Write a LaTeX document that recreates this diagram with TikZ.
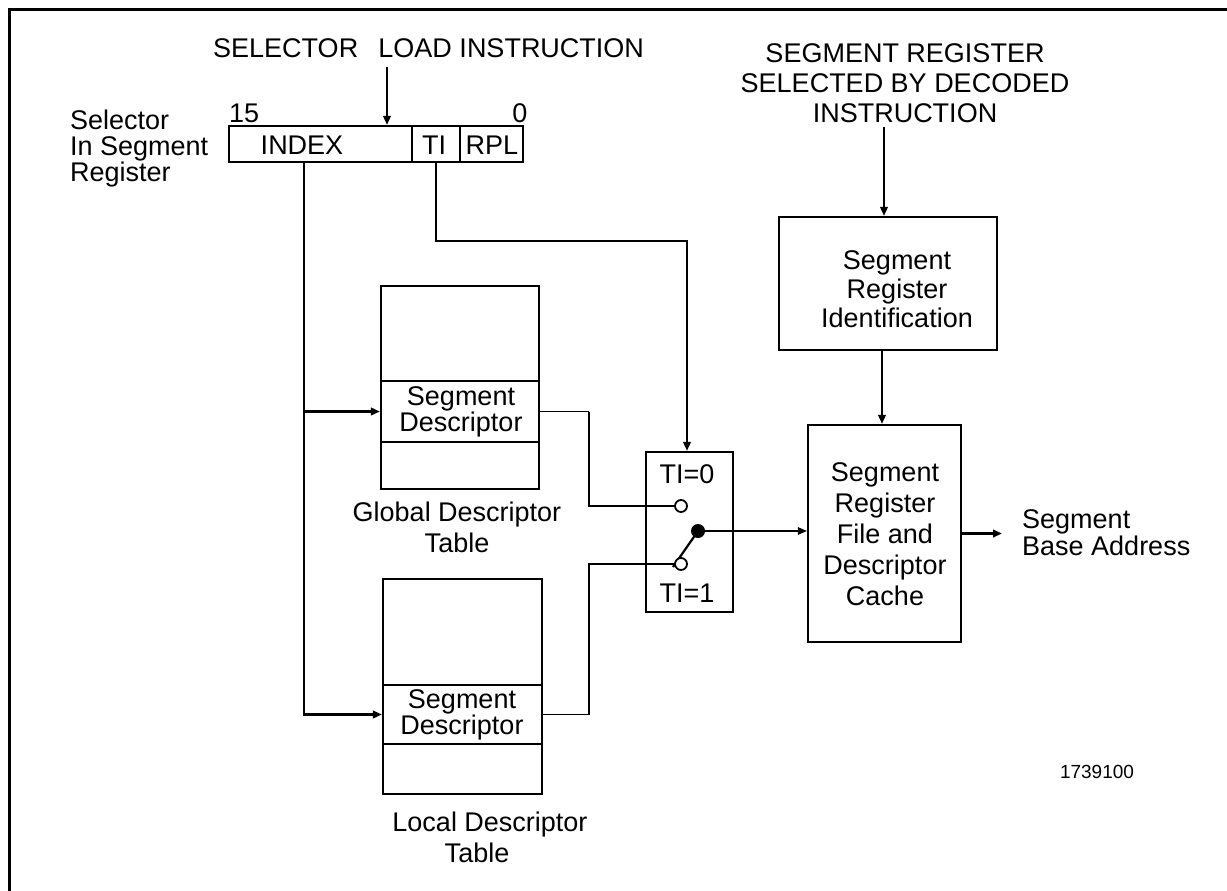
\documentclass[tikz,border=0pt]{standalone}
\usepackage{fontspec}
\setmainfont{Liberation Sans}
\usetikzlibrary{arrows.meta,calc}
\begin{document}
\begin{tikzpicture}[x=1pt,y=-1pt,
  thk/.style={line width=2.2pt},
  thn/.style={line width=1.1pt},
  arr/.style={-{Triangle[length=9pt,width=7.5pt]}},
  fld/.style={draw,line width=2.2pt,inner sep=0pt},
  txt/.style={inner sep=0pt,align=center,font=\fontsize{27}{27}\selectfont},
  txtl/.style={inner sep=0pt,align=left,font=\fontsize{27}{26}\selectfont},
  desc/.style={inner sep=0pt,align=center,font=\fontsize{27}{22}\selectfont},
  pin/.style={circle,draw,line width=1.8pt,fill=white,inner sep=0pt,minimum size=12pt},
  dotc/.style={circle,fill=black,inner sep=0pt,minimum size=14pt}]
\useasboundingbox (0,0) rectangle (1227,891);
\clip (0,0) rectangle (1227,891);
\draw[line width=3pt] (9,10) rectangle (1250,910);

% top-left texts
\node[txt,anchor=west] (sli) at (213,48) {SELECTOR\hspace{0.75em}LOAD INSTRUCTION};
\node[txtl,anchor=west] (sel) at (70,149) {Selector\\In Segment\\Register};
\node[txt,anchor=west] (b15) at (229,113) {15};
\node[txt] (b0) at (520,113) {0};

% selector register
\node[fld,minimum width=183pt,minimum height=36pt] (idx) at (320.5,144) {};
\node[fld,minimum width=48pt,minimum height=36pt] (ti) at (436,144) {};
\node[fld,minimum width=63pt,minimum height=36pt] (rpl) at (491.5,144) {};
\node[txt] (idxt) at (302,145) {INDEX};
\node[txt] (tit) at (434,145) {TI};
\node[txt] (rplt) at (492,145) {RPL};

% GDT
\node[fld,minimum width=158pt,minimum height=95pt] (gdta) at (460,333.5) {};
\node[fld,minimum width=158pt,minimum height=61pt] (gdtd) at (460,411.5) {};
\node[fld,minimum width=158pt,minimum height=47pt] (gdtb) at (460,465.5) {};
\node[desc] (gdtt) at (461,412) {Segment\\Descriptor};
\node[txt] (gdtl1) at (457,515) {Global Descriptor};
\node[txt] (gdtl2) at (457,543) {Table};

% LDT
\node[fld,minimum width=159pt,minimum height=106pt] (ldta) at (462.5,632) {};
\node[fld,minimum width=159pt,minimum height=59pt] (ldtd) at (462.5,714.5) {};
\node[fld,minimum width=159pt,minimum height=50pt] (ldtb) at (462.5,769) {};
\node[desc] (ldtt) at (462,715) {Segment\\Descriptor};
\node[txt] (ldtl1) at (490,825) {Local Descriptor};
\node[txt] (ldtl2) at (477,853) {Table};

% switch
\node[fld,minimum width=87pt,minimum height=160pt] (sw) at (689.5,532) {};
\node[txt] (sw0) at (687,474) {TI=0};
\node[txt] (sw1) at (687,593) {TI=1};

% right side
\node[txt] (hdr) at (905,83) {SEGMENT REGISTER\\[3pt]SELECTED BY DECODED\\[3pt]INSTRUCTION};
\node[fld,minimum width=218pt,minimum height=133pt] (idb) at (888,283.5) {};
\node[txt,font=\fontsize{27}{29}\selectfont] (idbt) at (897,289) {Segment\\Register\\Identification};
\node[fld,minimum width=153pt,minimum height=217pt] (cache) at (884.5,533.5) {};
\node[txt,font=\fontsize{27}{31}\selectfont] (cachet) at (885,534) {Segment\\Register\\File and\\Descriptor\\Cache};
\node[txtl,font=\fontsize{27}{27}\selectfont,anchor=west] (sba) at (1022,533) {Segment\\Base Address};
\node[inner sep=0pt,font=\fontsize{19}{19}\selectfont] (fig) at (1097,772) {1739100};

% coordinates
\coordinate (slo) at (387,67);
\coordinate (ix) at (304,162);
\coordinate (hdrout) at (884,127);
\coordinate (sbain) at (1002,533.5);

% connectors
\draw[thk,arr] (slo) -- (slo |- idx.north);
\draw[thk] (ix) |- ($(gdtd.west)+(-6,0)$);
\draw[thk,arr] ($(ix|-gdtd.west)$) -- (gdtd.west);
\draw[thk] (ix) |- ($(ldtd.west)+(-6,0)$);
\draw[thk,arr] ($(ix|-ldtd.west)$) -- (ldtd.west);
\draw[thk,arr] (ti.south) -- ++(0,78) -| ($(sw.north)+(-2.5,0)$);

\draw[thn] (gdtd.east) -- ++(49,0) coordinate (g1);
\draw[thk] (g1) |- (681,506) coordinate (c0in);
\draw[thn] (ldtd.east) -- ++(46,0) coordinate (l1);
\draw[thk] (l1) |- (681,564) coordinate (c1in);

\node[dotc] (dot) at (698,531) {};
\draw[thk] (dot.center) -- (673,567);
\node[pin] (c0) at (c0in) {};
\node[pin] (c1) at (c1in) {};
\draw[thn,arr] (dot.center) -- (dot.center -| cache.west);

\draw[thk,arr] (hdrout) -- (hdrout |- idb.north);
\draw[thk,arr] (idb.south -| 882,0) -- (cache.north -| 882,0);
\draw[thk,arr] (cache.east) -- (sbain);
\end{tikzpicture}
\end{document}
